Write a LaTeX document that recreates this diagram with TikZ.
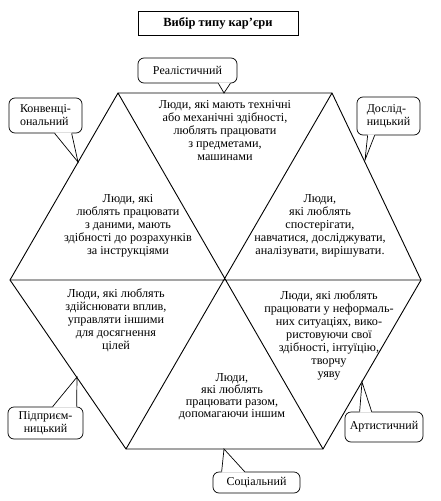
\documentclass[tikz,border=0pt]{standalone}
\usepackage{fontspec}
\setmainfont{Liberation Serif}
\usetikzlibrary{calc}

\begin{document}
\begin{tikzpicture}[x=1pt,y=-1pt,
  hexline/.style={line width=0.9pt},
  typebox/.style={draw, rounded corners=6pt, line width=0.7pt, inner sep=2pt,
    font=\fontsize{12}{13}\selectfont},
  groupnote/.style={align=center, font=\fontsize{12.2}{13}\selectfont},
  pointer/.style={line width=0.7pt}]
  \useasboundingbox (0,0) rectangle (441,501);
  % Corners of the hexagon
  \coordinate (tl) at (118,93);
  \coordinate (tr) at (332,93);
  \coordinate (r) at (421,280);
  \coordinate (br) at (323,449);
  \coordinate (bl) at (126,449);
  \coordinate (l) at (10,280);
  % Hexagon and its diagonals
  \draw[hexline] (tl) -- (tr) -- (r) -- (br) -- (bl) -- (l) -- cycle;
  \draw[hexline] (tl) -- (br) (tr) -- (bl) (l) -- (r);

  % Title
  \node[draw, line width=0.8pt, minimum width=160, minimum height=24,
    font=\bfseries\fontsize{12.5}{14}\selectfont] (title) at (218,23) {Вибір типу кар’єри};

  % Texts in the six triangles
  \node[groupnote] (realnote) at (225,131)
    {Люди, які мають технічні\\або механічні здібності,\\люблять працювати\\з предметами,\\машинами};
  \node[groupnote] (convnote) at (128,226)
    {Люди, які\\люблять працювати\\з даними, мають\\здібності до розрахунків\\за інструкціями};
  \node[groupnote] (invnote) at (320,226)
    {Люди,\\які люблять\\спостерігати,\\навчатися, досліджувати,\\аналізувати, вирішувати.};
  \node[groupnote] (entnote) at (116,320)
    {Люди, які люблять\\здійснювати вплив,\\управляти іншими\\для досягнення\\цілей};
  \node[groupnote] (artnote) at (329,335)
    {Люди, які люблять\\працювати у неформаль-\\них ситуаціях, вико-\\ристовуючи свої\\здібності, інтуїцію,\\творчу\\уяву};
  \node[groupnote, font=\fontsize{12.2}{12}\selectfont] (socnote) at (232,397)
    {Люди,\\які люблять\\працювати разом,\\допомагаючи іншим};

  % Callouts with the types
  \node[typebox, minimum width=99, minimum height=25] (real) at (187.5,70.5) {Реалістичний};
  \coordinate (realtip) at (224,93);
  \fill[white] ($(real.south east)+(-19,-1)$) -- (realtip) -- ($(real.south east)+(-7,-1)$) -- cycle;
  \draw[pointer] ($(real.south east)+(-19,0)$) -- (realtip) -- ($(real.south east)+(-7,0)$);

  \node[typebox, minimum width=73, minimum height=35, align=left] (conv) at (45.5,115.5)
    {Конвенці-\\ональний};
  \coordinate (convtip) at (78,162);
  \fill[white] ($(conv.south west)+(46,-1)$) -- (convtip) -- ($(conv.south west)+(63,-1)$) -- cycle;
  \draw[pointer] ($(conv.south west)+(46,0)$) -- (convtip) -- ($(conv.south west)+(63,0)$);

  \node[typebox, minimum width=63, minimum height=38, align=left] (inv) at (388.5,116)
    {Дослід-\\ницький};
  \coordinate (invtip) at (365,160);
  \fill[white] ($(inv.south west)+(11,-1)$) -- (invtip) -- ($(inv.south west)+(18,-1)$) -- cycle;
  \draw[pointer] ($(inv.south west)+(11,0)$) -- (invtip) -- ($(inv.south west)+(18,0)$);

  \node[typebox, minimum width=75, minimum height=32, align=center] (ent) at (45.5,423)
    {Підприєм-\\ницький};
  \coordinate (enttip) at (77,377);
  \fill[white] ($(ent.north west)+(45,1)$) -- (enttip) -- ($(ent.north west)+(69,1)$) -- cycle;
  \draw[pointer] ($(ent.north west)+(45,0)$) -- (enttip) -- ($(ent.north west)+(69,0)$);

  \node[typebox, minimum width=78, minimum height=30] (art) at (384,427) {Артистичний};
  \coordinate (arttip) at (362,382);
  \fill[white] ($(art.north west)+(15,1)$) -- (arttip) -- ($(art.north west)+(27,1)$) -- cycle;
  \draw[pointer] ($(art.north west)+(15,0)$) -- (arttip) -- ($(art.north west)+(27,0)$);

  \node[typebox, minimum width=87, minimum height=21] (soc) at (256.5,482.5) {Соціальний};
  \coordinate (soctip) at (224,449);
  \fill[white] ($(soc.north west)+(9,1)$) -- (soctip) -- ($(soc.north west)+(32,1)$) -- cycle;
  \draw[pointer] ($(soc.north west)+(9,0)$) -- (soctip) -- ($(soc.north west)+(32,0)$);
\end{tikzpicture}
\end{document}
